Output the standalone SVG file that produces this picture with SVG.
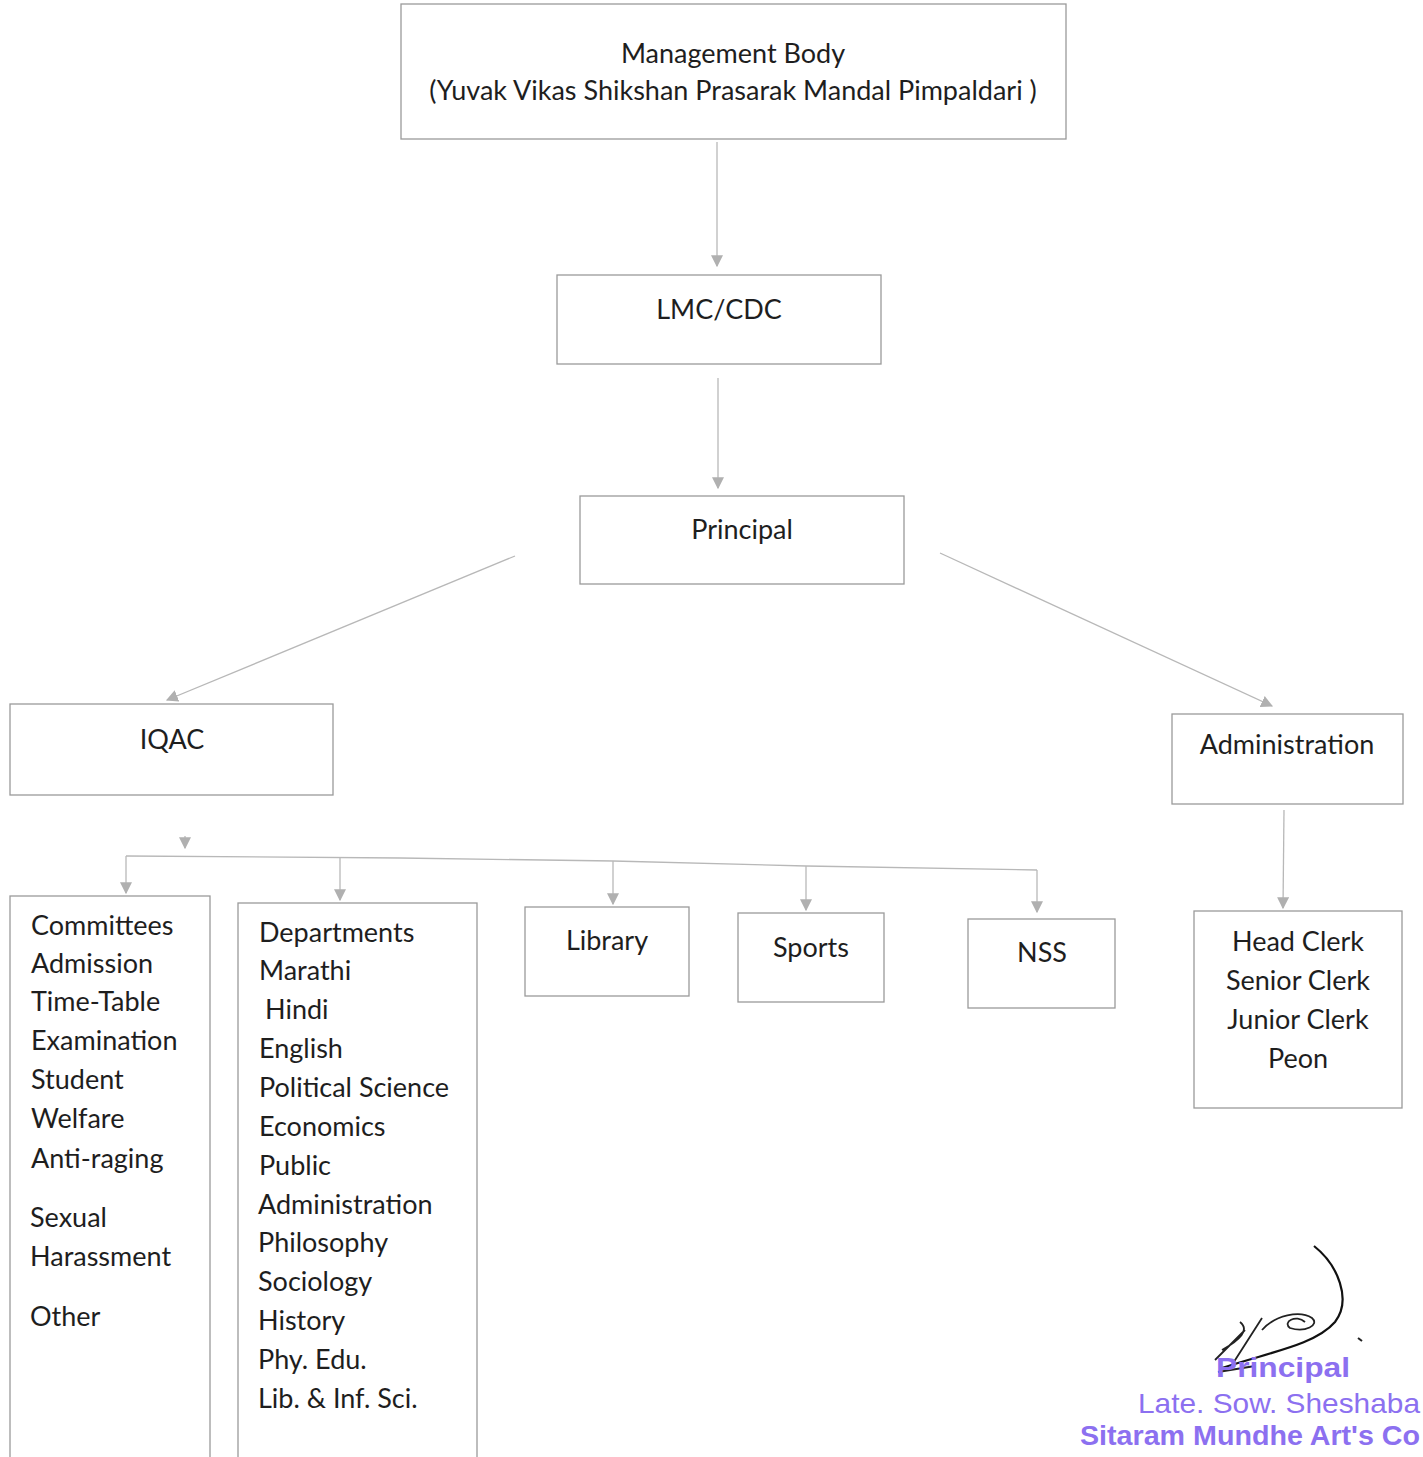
<svg xmlns="http://www.w3.org/2000/svg" width="1423" height="1457" viewBox="0 0 1423 1457">
<defs>
<style>
.box{fill:#fff;stroke:#9a9a9a;stroke-width:1.3}
.t{font-family:Lato,"Open Sans",sans-serif;font-size:27px;fill:#1e1e1e}
.c{text-anchor:middle}
.ln{stroke:#b8b8b8;stroke-width:1.3;fill:none}
.st{font-family:"Liberation Sans",Arial,sans-serif;font-size:28px;fill:#8c70f0}
</style>
<marker id="ah" viewBox="0 0 10 10" refX="9" refY="5" markerWidth="12" markerHeight="12" markerUnits="userSpaceOnUse" orient="auto">
<path d="M0,0 L10,5 L0,10 z" fill="#b0b0b0"/>
</marker>
</defs>
<rect width="1423" height="1457" fill="#fff"/>
<g id="connectors">
<line class="ln" x1="717" y1="142" x2="717" y2="266" marker-end="url(#ah)"/>
<line class="ln" x1="718" y1="378" x2="718" y2="488" marker-end="url(#ah)"/>
<line class="ln" x1="515" y1="556" x2="167" y2="700" marker-end="url(#ah)"/>
<line class="ln" x1="940" y1="553" x2="1272" y2="706" marker-end="url(#ah)"/>
<line class="ln" x1="1284" y1="810" x2="1283" y2="908" marker-end="url(#ah)"/>
<line class="ln" x1="185" y1="836" x2="185" y2="848" marker-end="url(#ah)"/>
<polyline class="ln" points="126,856 400,858 613,861 806,866 1037,870"/>
<line class="ln" x1="126" y1="856" x2="126" y2="893" marker-end="url(#ah)"/>
<line class="ln" x1="340" y1="858" x2="340" y2="900" marker-end="url(#ah)"/>
<line class="ln" x1="613" y1="861" x2="613" y2="904" marker-end="url(#ah)"/>
<line class="ln" x1="806" y1="866" x2="806" y2="910" marker-end="url(#ah)"/>
<line class="ln" x1="1037" y1="870" x2="1037" y2="912" marker-end="url(#ah)"/>
</g>
<g id="management">
<rect class="box" x="401" y="4" width="665" height="135"/>
<text class="t c" x="733" y="63">Management Body</text>
<text class="t c" x="733" y="100">(Yuvak Vikas Shikshan Prasarak Mandal Pimpaldari )</text>
</g>
<g id="lmc">
<rect class="box" x="557" y="275" width="324" height="89"/>
<text class="t c" x="719" y="319">LMC/CDC</text>
</g>
<g id="principal">
<rect class="box" x="580" y="496" width="324" height="88"/>
<text class="t c" x="742" y="539">Principal</text>
</g>
<g id="iqac">
<rect class="box" x="10" y="704" width="323" height="91"/>
<text class="t c" x="172" y="749">IQAC</text>
</g>
<g id="administration">
<rect class="box" x="1172" y="714" width="231" height="90"/>
<text class="t c" x="1287" y="754">Administration</text>
</g>
<g id="committees">
<rect class="box" x="10" y="896" width="200" height="570"/>
<text class="t" x="31" y="935">Committees</text>
<text class="t" x="31" y="973">Admission</text>
<text class="t" x="31" y="1011">Time-Table</text>
<text class="t" x="31" y="1050">Examination</text>
<text class="t" x="31" y="1089">Student</text>
<text class="t" x="31" y="1128">Welfare</text>
<text class="t" x="31" y="1168">Anti-raging</text>
<text class="t" x="30" y="1227">Sexual</text>
<text class="t" x="30" y="1266">Harassment</text>
<text class="t" x="30" y="1326">Other</text>
</g>
<g id="departments">
<rect class="box" x="238" y="903" width="239" height="570"/>
<text class="t" x="259" y="942">Departments</text>
<text class="t" x="259" y="980">Marathi</text>
<text class="t" x="265" y="1019">Hindi</text>
<text class="t" x="259" y="1058">English</text>
<text class="t" x="259" y="1097">Political Science</text>
<text class="t" x="259" y="1136">Economics</text>
<text class="t" x="259" y="1175">Public</text>
<text class="t" x="258" y="1214">Administration</text>
<text class="t" x="258" y="1252">Philosophy</text>
<text class="t" x="258" y="1291">Sociology</text>
<text class="t" x="258" y="1330">History</text>
<text class="t" x="258" y="1369">Phy. Edu.</text>
<text class="t" x="258" y="1408">Lib. &amp; Inf. Sci.</text>
</g>
<g id="library">
<rect class="box" x="525" y="907" width="164" height="89"/>
<text class="t c" x="607" y="950">Library</text>
</g>
<g id="sports">
<rect class="box" x="738" y="913" width="146" height="89"/>
<text class="t c" x="811" y="957">Sports</text>
</g>
<g id="nss">
<rect class="box" x="968" y="919" width="147" height="89"/>
<text class="t c" x="1042" y="962">NSS</text>
</g>
<g id="staff">
<rect class="box" x="1194" y="911" width="208" height="197"/>
<text class="t c" x="1298" y="951">Head Clerk</text>
<text class="t c" x="1298" y="990">Senior Clerk</text>
<text class="t c" x="1298" y="1029">Junior Clerk</text>
<text class="t c" x="1298" y="1068">Peon</text>
</g>
<g id="stamp">
<path d="M1314,1246 C1338,1265 1352,1300 1335,1322 C1315,1345 1270,1352 1222,1368" fill="none" stroke="#111" stroke-width="2.2"/>
<path d="M1215,1360 L1245,1330 M1230,1368 L1262,1318 M1222,1350 C1240,1340 1250,1330 1240,1322 M1262,1330 C1275,1315 1300,1310 1312,1318 C1320,1325 1305,1333 1290,1328 C1282,1322 1296,1314 1305,1322 M1218,1372 L1255,1366" fill="none" stroke="#222" stroke-width="1.8"/>
<path d="M1358,1338 l4,3" stroke="#222" stroke-width="2"/>
<text class="st" x="1216" y="1377" font-weight="bold" textLength="134" lengthAdjust="spacingAndGlyphs">Principal</text>
<text class="st" x="1138" y="1413" textLength="282" lengthAdjust="spacingAndGlyphs">Late. Sow. Sheshaba</text>
<text class="st" x="1080" y="1445" font-weight="bold" textLength="340" lengthAdjust="spacingAndGlyphs">Sitaram Mundhe Art's Co</text>
</g>
</svg>
